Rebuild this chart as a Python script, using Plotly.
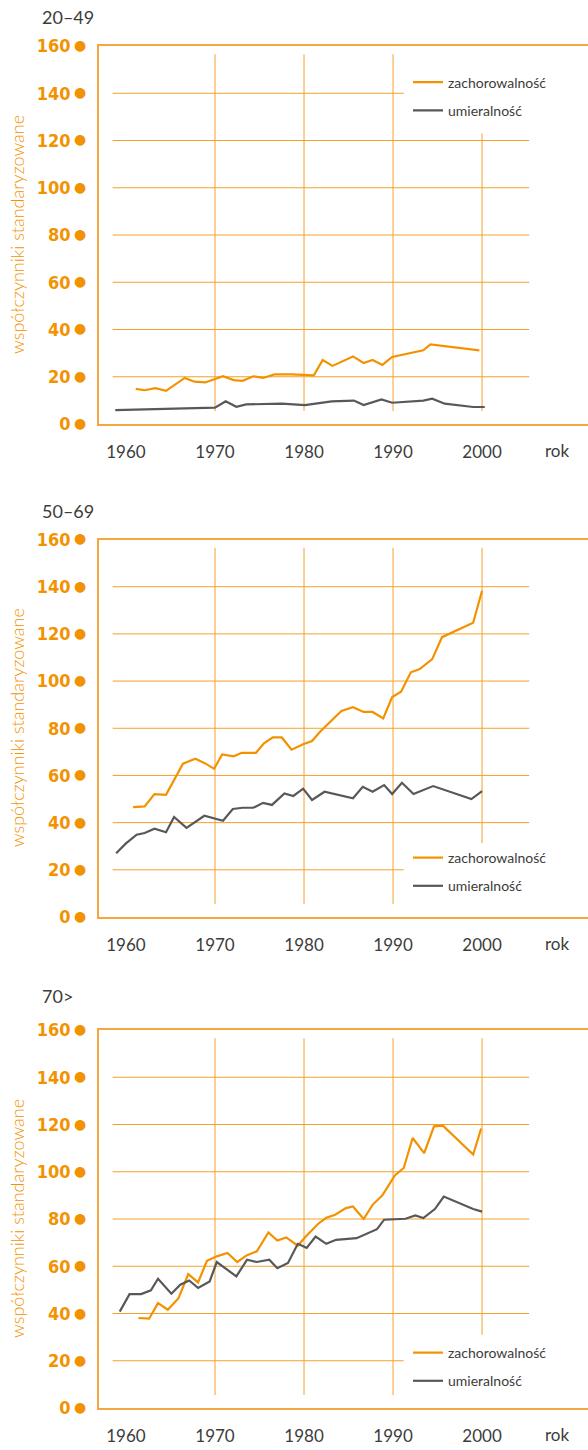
import plotly.graph_objects as go

# ---------------------------------------------------------------- data
panel_titles = ["20–49", "50–69", "70>"]
series_names = ["zachorowalność", "umieralność"]
year_ticks = [1960, 1970, 1980, 1990, 2000]
year_labels = ["1960", "1970", "1980", "1990", "2000"]
value_ticks = [0, 20, 40, 60, 80, 100, 120, 140, 160]
value_labels = ["0", "20", "40", "60", "80", "100", "120", "140", "160"]
x_title = "rok"
y_title = "współczynniki standaryzowane"

# age 20–49
inc_20_49_years = [1961.1, 1962.1, 1963.3, 1964.5, 1966.6, 1967.7, 1968.9, 1970.0, 1970.9,
                   1972.1, 1973.1, 1974.3, 1975.4, 1976.7, 1978.6, 1981.1, 1982.1, 1983.2,
                   1984.4, 1985.5, 1986.7, 1987.7, 1988.8, 1989.9, 1993.4, 1994.2, 1999.7]
inc_20_49 = [14.9, 14.3, 15.2, 14.0, 19.5, 17.9, 17.6, 19.0, 20.2, 18.6, 18.3, 20.2, 19.5,
             21.0, 21.0, 20.6, 27.1, 24.6, 26.7, 28.6, 25.8, 27.1, 25.0, 28.4, 31.2, 33.7, 31.2]
mort_20_49_years = [1958.8, 1970.0, 1971.2, 1972.4, 1973.5, 1977.5, 1980.1, 1983.1, 1985.6,
                    1986.7, 1988.7, 1989.9, 1993.4, 1994.4, 1995.8, 1999.0, 2000.3]
mort_20_49 = [5.9, 6.9, 9.6, 7.3, 8.3, 8.6, 8.0, 9.6, 9.9, 8.0, 10.4, 9.0, 9.9, 10.7, 8.6, 7.2, 7.2]

# age 50–69
inc_50_69_years = [1960.8, 1962.1, 1963.2, 1964.5, 1966.4, 1967.8, 1968.9, 1969.9, 1970.8,
                   1972.1, 1973.0, 1974.6, 1975.5, 1976.5, 1977.5, 1978.6, 1979.9, 1980.9,
                   1981.8, 1982.9, 1984.2, 1985.5, 1986.7, 1987.7, 1988.9, 1989.9, 1990.9,
                   1992.0, 1993.0, 1994.4, 1995.5, 1999.0, 2000.0]
inc_50_69 = [46.6, 46.9, 52.1, 51.8, 65.0, 67.1, 65.1, 62.8, 68.9, 68.1, 69.6, 69.6, 73.6,
             76.1, 76.1, 70.9, 73.2, 74.6, 78.5, 82.6, 87.3, 88.9, 86.9, 86.9, 84.2, 93.2,
             95.5, 103.7, 105.1, 109.3, 118.6, 124.7, 138.3]
mort_50_69_years = [1958.9, 1960.0, 1961.2, 1962.1, 1963.2, 1964.5, 1965.4, 1966.8, 1968.8,
                    1970.9, 1972.0, 1973.1, 1974.3, 1975.4, 1976.4, 1977.8, 1978.8, 1979.9,
                    1980.9, 1982.3, 1985.5, 1986.6, 1987.7, 1989.0, 1989.9, 1991.0, 1992.3,
                    1994.5, 1998.8, 2000.0]
mort_50_69 = [27.0, 31.2, 34.9, 35.6, 37.4, 35.9, 42.4, 37.8, 42.9, 40.8, 45.8, 46.3, 46.3,
              48.4, 47.5, 52.4, 51.3, 54.4, 49.6, 53.1, 50.3, 55.2, 53.1, 55.9, 52.1, 56.9,
              52.1, 55.5, 50.0, 53.4]

# age 70+
inc_70_years = [1961.4, 1962.6, 1963.6, 1964.7, 1965.9, 1967.0, 1968.1, 1969.1, 1970.2,
                1971.4, 1972.5, 1973.6, 1974.7, 1976.0, 1977.0, 1978.0, 1979.3, 1980.2,
                1981.6, 1982.5, 1983.5, 1984.7, 1985.5, 1986.7, 1987.7, 1988.8, 1990.2,
                1991.2, 1992.2, 1993.5, 1994.6, 1995.6, 1999.0, 1999.9]
inc_70 = [38.1, 37.8, 44.4, 41.6, 46.5, 56.7, 53.2, 62.3, 64.2, 65.6, 61.8, 64.7, 66.3,
          74.3, 70.9, 72.2, 68.7, 72.6, 78.0, 80.5, 81.8, 84.6, 85.3, 80.0, 86.0, 90.0,
          98.4, 101.6, 114.3, 107.9, 119.2, 119.5, 107.3, 118.3]
mort_70_years = [1959.3, 1960.4, 1961.7, 1962.8, 1963.6, 1965.1, 1966.1, 1967.1, 1968.1,
                 1969.4, 1970.2, 1972.4, 1973.6, 1974.7, 1976.1, 1977.0, 1978.2, 1979.3,
                 1980.3, 1981.3, 1982.5, 1983.6, 1985.9, 1988.2, 1989.0, 1991.4, 1992.5,
                 1993.4, 1994.7, 1995.7, 1999.0, 2000.0]
mort_70 = [40.8, 48.2, 48.2, 49.8, 54.7, 48.4, 52.2, 54.0, 50.8, 53.6, 61.8, 55.7, 62.8,
           61.8, 62.8, 59.2, 61.4, 69.5, 67.8, 72.6, 69.5, 71.2, 71.9, 75.7, 79.7, 80.1,
           81.5, 80.4, 84.2, 89.5, 84.2, 83.1]

panels = [
    (inc_20_49_years, inc_20_49, mort_20_49_years, mort_20_49),
    (inc_50_69_years, inc_50_69, mort_50_69_years, mort_50_69),
    (inc_70_years, inc_70, mort_70_years, mort_70),
]

# ---------------------------------------------------------------- style
W, H = 588, 1450
ORANGE = "#F39200"
FRAME = "#F5A73F"
GRIDC = "#F4A02E"
DARK = "#58585A"
TEXT = "#3C3C3B"
SANS = "Lato, 'Open Sans', sans-serif"
NUM = "'Liberation Sans Narrow', 'DejaVu Sans Condensed', Roboto, sans-serif"

X_RANGE = [1956.97, 2011.9]
Y_RANGE = [0, 160]
# panel frames in pixels (top, bottom)
frames = [(46, 424), (539.5, 917), (1030, 1408)]
title_y = [17.5, 511, 996]
legend_top = [66.5, 842, 1337]
X_LEFT = 99
DOT_X = 80

def py(v):
    return 1 - v / H

fig = go.Figure()
layout = dict(
    width=W, height=H, margin=dict(l=0, r=0, t=0, b=0, autoexpand=False),
    paper_bgcolor="white", plot_bgcolor="white", showlegend=True,
    template="none",
)
annotations = []
shapes = []

grid_x0, grid_x1, grid_short = 1958.5, 2005.3, 1991.2
v_lo, v_hi = 5.5, 156.5
# per panel: which horizontal line is shortened next to the legend and
# the span of the 2000 vertical line
short_line = [140, 20, 20]
span_2000 = [(5.5, 123.0), (31.3, 156.5), (31.0, 156.5)]

for i, (iy, iv, my, mv) in enumerate(panels):
    n = "" if i == 0 else str(i + 1)
    xa, ya = "x" + n, "y" + n
    leg = "legend" + n
    top, bot = frames[i]

    layout["xaxis" + n] = dict(
        domain=[X_LEFT / W, 1], range=X_RANGE, anchor=ya, automargin=False,
        showline=True, linecolor=FRAME, linewidth=1.5, mirror=True,
        showgrid=False, zeroline=False, ticks="",
        tickvals=year_ticks, ticktext=year_labels, ticklabelstandoff=12,
        tickfont=dict(family=SANS, size=17, color=TEXT),
    )
    layout["yaxis" + n] = dict(
        domain=[py(bot), py(top)], range=Y_RANGE, anchor=xa, automargin=False,
        showline=True, linecolor=FRAME, linewidth=1.5,
        showgrid=False, zeroline=False, ticks="",
        tickvals=value_ticks, ticktext=value_labels, ticklabelstandoff=23,
        tickfont=dict(family=NUM, size=18, color=ORANGE, weight="bold"),
    )

    # horizontal grid lines
    for v in value_ticks[1:-1]:
        x1 = grid_short if v == short_line[i] else grid_x1
        shapes.append(dict(type="line", xref=xa, yref=ya, x0=grid_x0, x1=x1, y0=v, y1=v,
                           line=dict(color=GRIDC, width=1), layer="below"))
    # vertical decade lines
    for yr in year_ticks[1:]:
        lo, hi = (v_lo, v_hi) if yr != 2000 else span_2000[i]
        shapes.append(dict(type="line", xref=xa, yref=ya, x0=yr, x1=yr, y0=lo, y1=hi,
                           line=dict(color=GRIDC, width=1), layer="below"))

    # round bullets beside the value labels
    for v in value_ticks:
        annotations.append(dict(
            text="●", xref="paper", yref=ya, x=DOT_X / W, y=v,
            xanchor="center", yanchor="middle", yshift=1, showarrow=False,
            font=dict(family="DejaVu Sans", size=14, color=ORANGE)))

    fig.add_trace(go.Scatter(
        x=iy, y=iv, xaxis=xa, yaxis=ya, mode="lines", name=series_names[0],
        line=dict(color=ORANGE, width=2.2), legend=leg, legendgroup="a" + n))
    fig.add_trace(go.Scatter(
        x=my, y=mv, xaxis=xa, yaxis=ya, mode="lines", name=series_names[1],
        line=dict(color=DARK, width=2.2), legend=leg, legendgroup="b" + n))

    layout[leg] = dict(
        x=408 / W, y=py(legend_top[i]), xanchor="left", yanchor="top",
        bgcolor="rgba(0,0,0,0)", borderwidth=0, tracegroupgap=7,
        traceorder="grouped", font=dict(family=SANS, size=14, color=TEXT),
    )

    annotations.append(dict(
        text=panel_titles[i], xref="paper", yref="paper", x=40 / W, y=py(title_y[i]),
        xanchor="left", yanchor="middle", showarrow=False,
        font=dict(family=SANS, size=18, color=TEXT)))
    annotations.append(dict(
        text=y_title, xref="paper", yref="paper", x=17 / W, y=py((top + bot) / 2),
        xanchor="center", yanchor="middle", textangle=-90, showarrow=False,
        font=dict(family=SANS, size=18, color=ORANGE, weight=300)))
    annotations.append(dict(
        text=x_title, xref=xa, yref=ya + " domain", x=2008.4, y=0,
        xanchor="center", yanchor="top", yshift=-14, showarrow=False,
        font=dict(family=SANS, size=17, color=TEXT)))

layout["annotations"] = annotations
layout["shapes"] = shapes
fig.update_layout(**layout)
fig.write_html("out.html")
